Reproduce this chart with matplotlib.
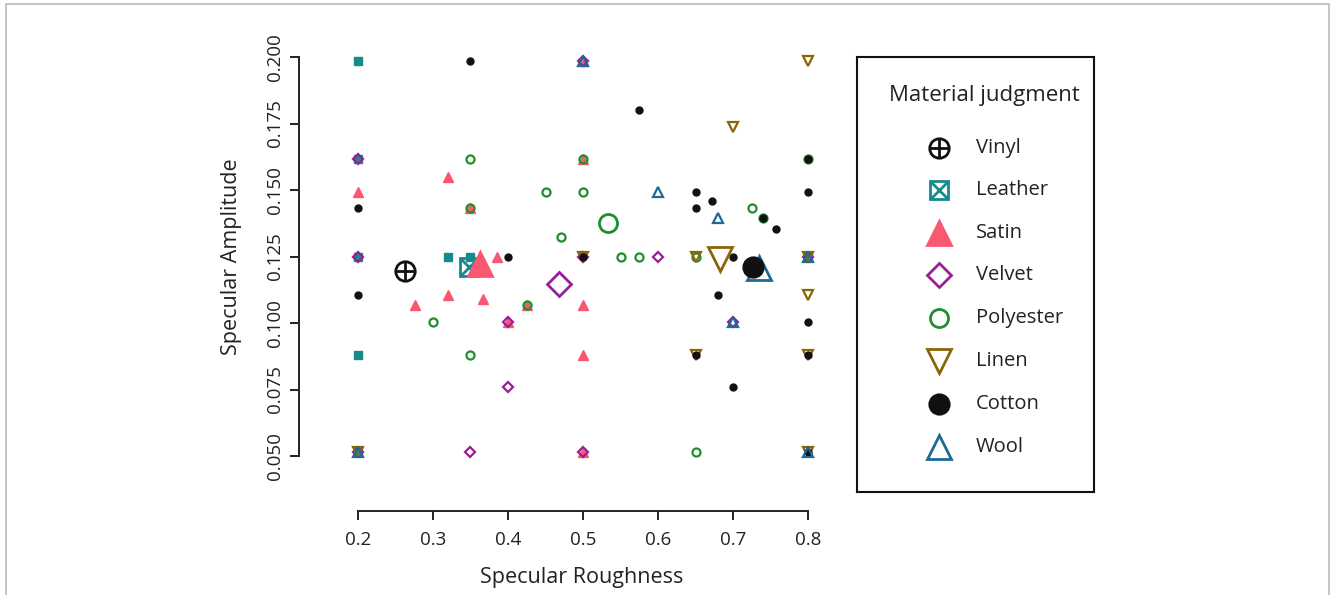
import matplotlib.pyplot as plt
from matplotlib.patches import Rectangle

plt.rcParams['font.family'] = ['Open Sans', 'DejaVu Sans']

materials = ['Vinyl', 'Leather', 'Satin', 'Velvet', 'Polyester', 'Linen', 'Cotton', 'Wool']
colors = ['#111111', '#168B8C', '#F95870', '#991E99', '#1F8F2E', '#8B6508', '#111111', '#1D6A96']

# individual judgments (x = roughness, y = amplitude)
leather_x = [0.2, 0.2, 0.2, 0.2, 0.2, 0.32, 0.35, 0.8]
leather_y = [0.1985, 0.1617, 0.125, 0.088, 0.0515, 0.125, 0.125, 0.125]
satin_x = [0.2, 0.32, 0.35, 0.385, 0.276, 0.32, 0.367, 0.4, 0.425, 0.5, 0.5, 0.5, 0.5, 0.5]
satin_y = [0.1494, 0.155, 0.1434, 0.125, 0.1068, 0.1105, 0.109, 0.1004, 0.1068, 0.1985, 0.1617, 0.1068, 0.088, 0.0515]
velvet_x = [0.2, 0.2, 0.2, 0.35, 0.4, 0.4, 0.5, 0.5, 0.5, 0.6, 0.7, 0.8]
velvet_y = [0.1617, 0.125, 0.0515, 0.0515, 0.1004, 0.076, 0.1985, 0.125, 0.0515, 0.125, 0.1004, 0.125]
polyester_x = [0.3, 0.35, 0.35, 0.35, 0.425, 0.45, 0.47, 0.5, 0.5, 0.55, 0.575, 0.65, 0.65, 0.725, 0.74, 0.8]
polyester_y = [0.1004, 0.1617, 0.1434, 0.088, 0.1068, 0.1494, 0.1322, 0.1617, 0.1494, 0.125, 0.125, 0.125, 0.0515, 0.1434, 0.1396, 0.1617]
linen_x = [0.2, 0.5, 0.65, 0.65, 0.7, 0.8, 0.8, 0.8, 0.8, 0.8]
linen_y = [0.0515, 0.125, 0.125, 0.088, 0.1736, 0.1985, 0.125, 0.1105, 0.088, 0.0515]
cotton_x = [0.2, 0.2, 0.35, 0.4, 0.5, 0.575, 0.65, 0.65, 0.672, 0.74, 0.757, 0.8, 0.8, 0.7, 0.68, 0.8, 0.65, 0.8, 0.7, 0.8]
cotton_y = [0.1434, 0.1105, 0.1985, 0.125, 0.125, 0.18, 0.1494, 0.1434, 0.1459, 0.1396, 0.1352, 0.1617, 0.1494, 0.125, 0.1105, 0.1004, 0.088, 0.088, 0.076, 0.0515]
wool_x = [0.2, 0.5, 0.6, 0.68, 0.7, 0.8, 0.8]
wool_y = [0.0515, 0.1985, 0.1494, 0.1396, 0.1004, 0.125, 0.0515]

# mean judgment per material
mean_x = [0.263, 0.348, 0.363, 0.468, 0.533, 0.683, 0.727, 0.735]
mean_y = [0.1195, 0.1211, 0.1222, 0.1147, 0.1377, 0.1242, 0.1212, 0.1205]

x_ticks = [0.2, 0.3, 0.4, 0.5, 0.6, 0.7, 0.8]
y_ticks = [0.05, 0.075, 0.1, 0.125, 0.15, 0.175, 0.2]

fig = plt.figure(figsize=(13.3, 5.95), dpi=100)
ax = fig.add_axes([358 / 1330, 139 / 595, 450 / 1330, 399 / 595])
ax.set_xlim(0.2, 0.8)
ax.set_ylim(0.05, 0.2)

lw = 1.6
small = dict(linestyle='none', clip_on=False)
ax.plot(leather_x, leather_y, marker='s', ms=5.5, color=colors[1], mec=colors[1], **small)
ax.plot(satin_x, satin_y, marker='^', ms=7, color=colors[2], mec=colors[2], **small)
ax.plot(velvet_x, velvet_y, marker='D', ms=5.5, mfc='none', mec=colors[3], mew=lw, **small)
ax.plot(polyester_x, polyester_y, marker='o', ms=5.8, mfc='none', mec=colors[4], mew=lw, **small)
ax.plot(linen_x, linen_y, marker='v', ms=7.5, mfc='none', mec=colors[5], mew=lw, **small)
ax.plot(cotton_x, cotton_y, marker='o', ms=5, color=colors[6], mec=colors[6], **small)
ax.plot(wool_x, wool_y, marker='^', ms=7, mfc='none', mec=colors[7], mew=lw, **small)

# big mean markers
big = dict(linestyle='none', clip_on=False, mew=2)
def mean_marker(a, i, x, y):
    if i == 0:
        a.plot(x, y, marker='o', ms=14, mfc='none', mec=colors[0], **big)
        a.plot(x, y, marker='+', ms=14, mec=colors[0], **big)
    elif i == 1:
        a.plot(x, y, marker='s', ms=13, mfc='none', mec=colors[1], **big)
        a.plot(x, y, marker='x', ms=13, mec=colors[1], **big)
    elif i == 2:
        a.plot(x, y, marker='^', ms=17, color=colors[2], mec=colors[2], **big)
    elif i == 3:
        a.plot(x, y, marker='D', ms=12.5, mfc='none', mec=colors[3], **big)
    elif i == 4:
        a.plot(x, y, marker='o', ms=13, mfc='none', mec=colors[4], **big)
    elif i == 5:
        a.plot(x, y, marker='v', ms=17, mfc='none', mec=colors[5], **big)
    elif i == 6:
        a.plot(x, y, marker='o', ms=14, color=colors[6], mec=colors[6], **big)
    elif i == 7:
        a.plot(x, y, marker='^', ms=17, mfc='none', mec=colors[7], **big)

for i in [0, 1, 2, 3, 4, 5, 7, 6]:
    mean_marker(ax, i, mean_x[i], mean_y[i])

# R-style detached axes
for s in ['top', 'right']:
    ax.spines[s].set_visible(False)
ax.spines['left'].set_position(('outward', 42.5))
ax.spines['bottom'].set_position(('outward', 39.5))
ax.spines['left'].set_bounds(0.05, 0.2)
ax.spines['bottom'].set_bounds(0.2, 0.8)
for s in ['left', 'bottom']:
    ax.spines[s].set_linewidth(1.4)
    ax.spines[s].set_color('#222222')
ax.set_xticks(x_ticks)
ax.set_xticklabels([f'{v:.1f}' for v in x_ticks])
ax.set_yticks(y_ticks)
ax.set_yticklabels([f'{v:.3f}' for v in y_ticks], rotation=90, va='center')
ax.tick_params(length=6.5, width=1.4, color='#222222', labelsize=13.5, labelcolor='#222222', pad=4.5)
ax.tick_params(axis='x', pad=8)

ax.set_xlabel('Specular Roughness', fontsize=15.5, color='#222222')
ax.xaxis.set_label_coords(0.498, -0.305)
ax.xaxis.label.set_va('center')
ax.set_ylabel('Specular Amplitude', fontsize=15.5, color='#222222')
ax.yaxis.set_label_coords(-0.28, 0.5)
ax.yaxis.label.set_va('center')

# legend box
lax = fig.add_axes([857 / 1330, 103 / 595, 237 / 1330, 435 / 595])
lax.set_xlim(857, 1094)
lax.set_ylim(492, 57)
lax.set_xticks([])
lax.set_yticks([])
for s in lax.spines.values():
    s.set_linewidth(1.5)
    s.set_color('#111111')
lax.text(984, 95, 'Material judgment', fontsize=16, ha='center', va='center', color='#222222')
leg_y = [148, 190, 233, 275, 318, 361, 404, 447]
for i, name in enumerate(materials):
    mean_marker(lax, i, 939, leg_y[i])
    lax.text(976, leg_y[i], name, fontsize=14.5, ha='left', va='center', color='#222222')

# outer frame
fig.add_artist(Rectangle((6 / 1330, -0.05), 1323 / 1330, 1.05 - 4 / 595, transform=fig.transFigure,
                         fill=False, edgecolor='#BBBBBB', linewidth=1.2))

fig.savefig('out.png', dpi=100)
